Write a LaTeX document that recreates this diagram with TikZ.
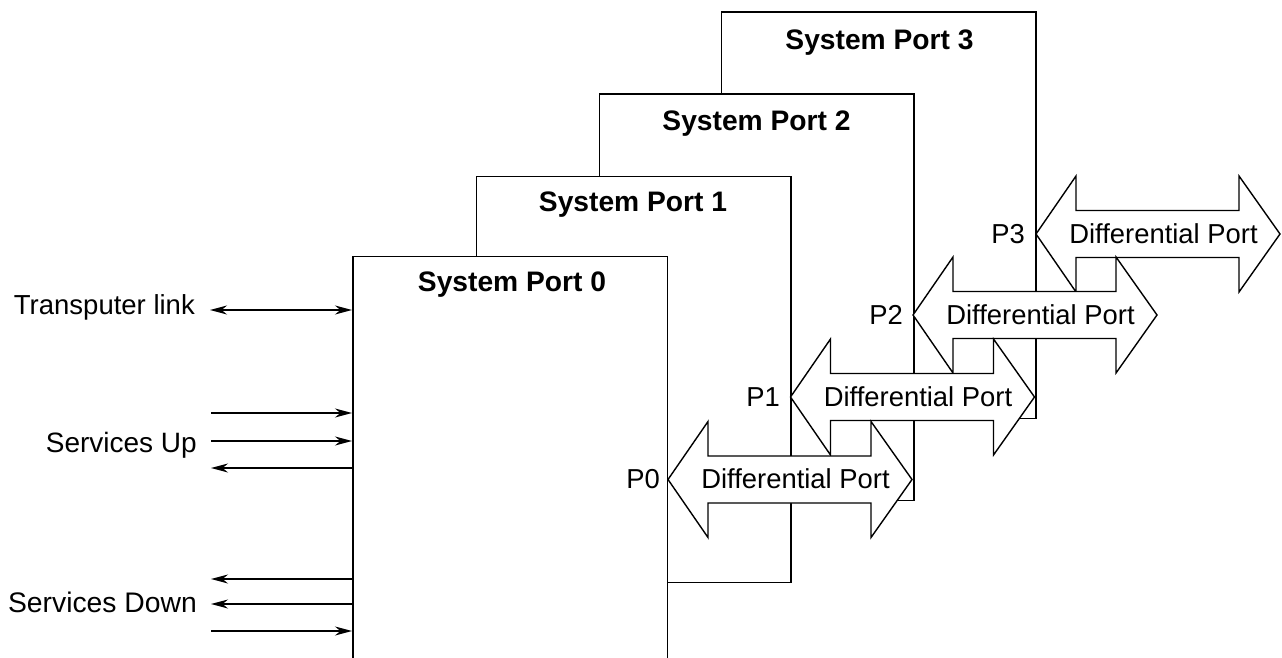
\documentclass[tikz,border=0pt]{standalone}
\usepackage{fontspec}
\setmainfont{Liberation Sans}
\usetikzlibrary{arrows.meta}
\tikzset{
  x=1pt,y=-1pt,
  sysbox/.style={draw=black,fill=white,line width=1.5pt,inner sep=0pt,anchor=north west,minimum width=314.5pt,minimum height=406pt},
  port/.style={draw=black,fill=white,line width=1.4pt,line join=miter},
  title/.style={font=\fontsize{28.2}{30}\selectfont\bfseries,inner sep=0pt},
  lab/.style={font=\fontsize{27.4}{30}\selectfont,inner sep=0pt},
  sidelab/.style={font=\fontsize{28}{30}\selectfont,inner sep=0pt,anchor=east},
  sig/.style={line width=1.4pt,-{Stealth[length=17pt,width=9pt]}},
  sigb/.style={line width=1.4pt,{Stealth[length=17pt,width=9pt]}-{Stealth[length=17pt,width=9pt]}},
}
\newcommand{\diffport}[3]{%
  \draw[port] (#2,#3) -- ++(40,-58) -- ++(0,34.5) -- ++(163,0) -- ++(0,-34.5) -- ++(41,58)
    -- ++(-41,58) -- ++(0,-34.5) -- ++(-163,0) -- ++(0,34.5) -- cycle;
  \node[lab] (#1) at (#2+127.5,#3-0.5) {Differential Port};
}
\begin{document}
\begin{tikzpicture}
\path[use as bounding box,clip] (0,0) rectangle (1282,658);
\fill[white] (0,0) rectangle (1282,658);
% System port 3
\node[sysbox] (box3) at (720.5,11.5) {};
\node[title] (t3) at (879.5,42.5) {System Port 3};
\diffport{d3}{1036}{234}
\node[lab,anchor=east] (p3) at (1025,234) {P3};
% System port 2
\node[sysbox] (box2) at (598.5,93.5) {};
\node[title] (t2) at (756.5,124) {System Port 2};
\diffport{d2}{913}{315}
\node[lab,anchor=east] (p2) at (903,315) {P2};
% System port 1
\node[sysbox] (box1) at (475.5,175.5) {};
\node[title] (t1) at (633,205) {System Port 1};
\diffport{d1}{790.5}{397}
\node[lab,anchor=east] (p1) at (780,397) {P1};
% System port 0
\node[sysbox,minimum height=500pt] (box0) at (352,255.5) {};
\node[title] (t0) at (512,285) {System Port 0};
\diffport{d0}{668}{479.5}
\node[lab,anchor=east] (p0) at (660,479) {P0};
% Signals
\node[sidelab,font=\fontsize{27.5}{30}\selectfont] (tl) at (195,307) {Transputer link};
\node[sidelab] (su) at (197,445) {Services Up};
\node[sidelab,font=\fontsize{28.3}{30}\selectfont] (sd) at (197,602) {Services Down};
\coordinate (a1) at (210,310);
\coordinate (a2) at (211,413);
\coordinate (a3) at (211,441);
\coordinate (a4) at (211,468);
\coordinate (a5) at (211,579);
\coordinate (a6) at (211,604);
\coordinate (a7) at (211,631);
\draw[sigb] (a1) -- (a1 -| box0.west);
\draw[sig] (a2) -- (a2 -| box0.west);
\draw[sig] (a3) -- (a3 -| box0.west);
\draw[sig] (a4 -| box0.west) -- (a4);
\draw[sig] (a5 -| box0.west) -- (a5);
\draw[sig] (a6 -| box0.west) -- (a6);
\draw[sig] (a7) -- (a7 -| box0.west);
\end{tikzpicture}
\end{document}
